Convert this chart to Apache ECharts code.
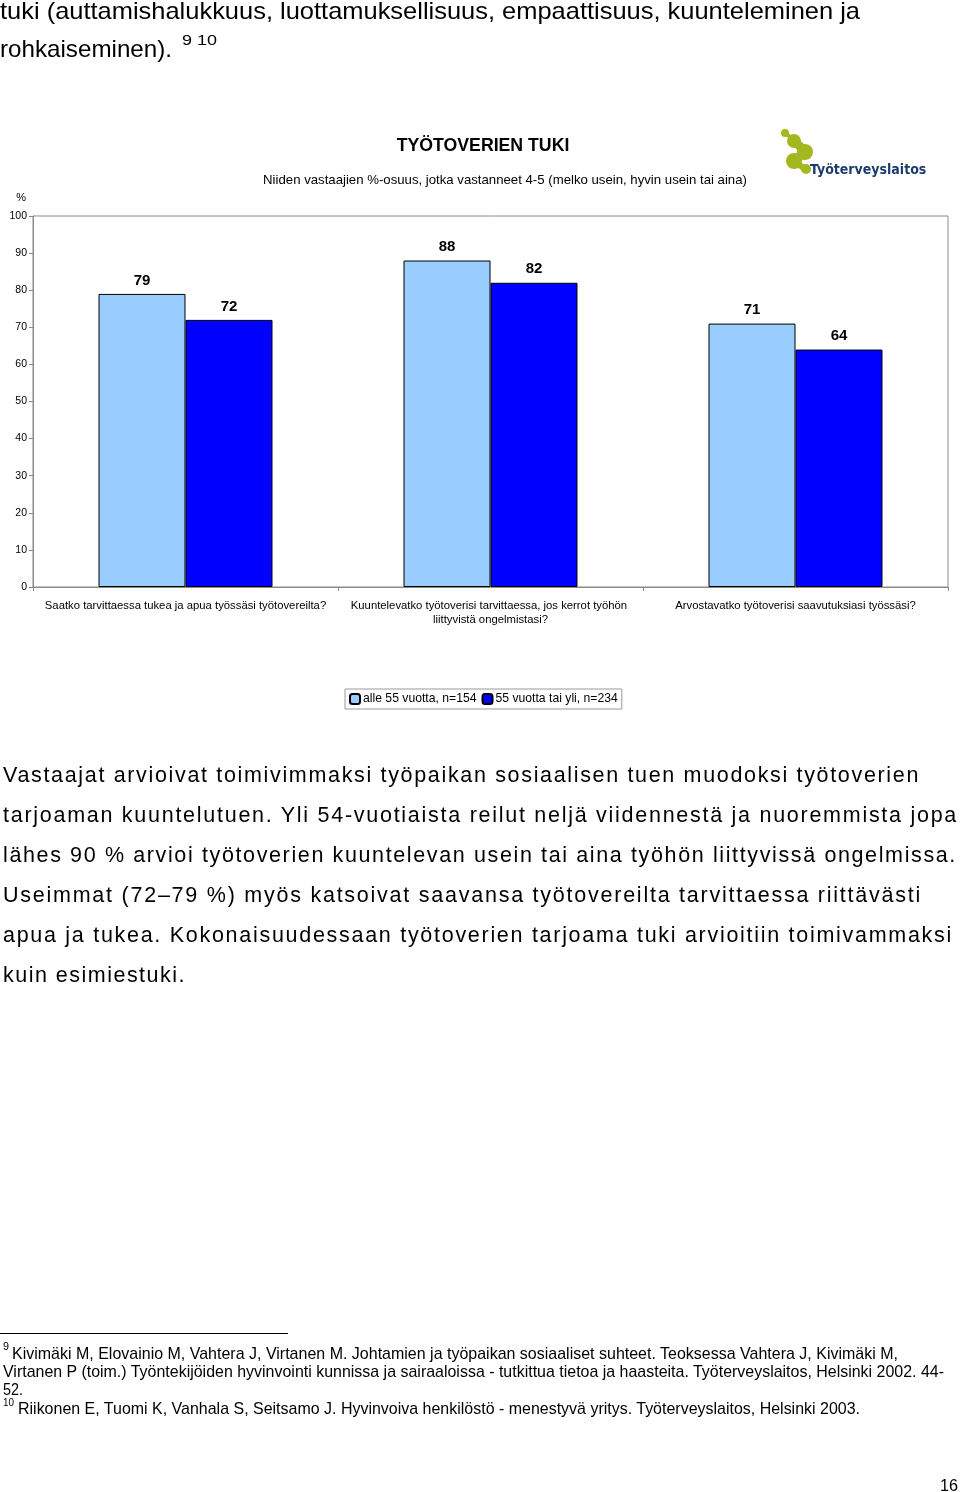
<!DOCTYPE html>
<html>
<head>
<meta charset="utf-8">
<script src="https://cdn.jsdelivr.net/npm/echarts@6/dist/echarts.min.js"></script>
<style>
  html, body { margin:0; padding:0; background:#fff; }
  body { width:960px; height:1492px; position:relative; overflow:hidden; font-family:"Liberation Sans", Arial, sans-serif; color:#000; }
  #chart { position:absolute; left:0; top:0; width:960px; height:1492px; z-index:0; }
  .t { position:absolute; white-space:nowrap; z-index:1; }
  .t span.in { display:inline-block; transform-origin:0 50%; }
  .rule { position:absolute; left:0; top:1333px; width:288px; height:1px; background:#000; z-index:1; }
</style>
</head>
<body>
<div id="chart"></div>
<script>
// ---------------- DATA ----------------
const categories = [
  "Saatko tarvittaessa tukea ja apua työssäsi työtovereilta?",
  "Kuuntelevatko työtoverisi tarvittaessa, jos kerrot työhön liittyvistä ongelmistasi?",
  "Arvostavatko työtoverisi saavutuksiasi työssäsi?"
];
const seriesNames = ["alle 55 vuotta, n=154", "55 vuotta tai yli, n=234"];
const under55 = [79, 88, 71];
const over55 = [72, 82, 64];
const yMin = 0, yMax = 100, yInterval = 10;
const chartTitle = "TYÖTOVERIEN TUKI";
const chartSubtitle = "Niiden vastaajien %-osuus, jotka vastanneet 4-5 (melko usein, hyvin usein tai aina)";

// page text lines: [text, x, yCenter, fontSize, targetWidth, mode]
const topLines = [
  ["tuki (auttamishalukkuus, luottamuksellisuus, empaattisuus, kuunteleminen ja", 0, 10, 24, 860, "scale"],
  ["rohkaiseminen).", 0, 48, 24, 172, "scale"]
];
const bodyLines = [
  ["Vastaajat arvioivat toimivimmaksi työpaikan sosiaalisen tuen muodoksi työtoverien", 3, 775, 21.5, 917, "space"],
  ["tarjoaman kuuntelutuen. Yli 54-vuotiaista reilut neljä viidennestä ja nuoremmista jopa", 3, 815, 21.5, 955, "space"],
  ["lähes 90 % arvioi työtoverien kuuntelevan usein tai aina työhön liittyvissä ongelmissa.", 3, 855, 21.5, 954, "space"],
  ["Useimmat (72–79 %) myös katsoivat saavansa työtovereilta tarvittaessa riittävästi", 3, 895, 21.5, 919, "space"],
  ["apua ja tukea. Kokonaisuudessaan työtoverien tarjoama tuki arvioitiin toimivammaksi", 3, 935, 21.5, 950, "space"],
  ["kuin esimiestuki.", 3, 975, 21.5, 183, "space"]
];
const footLines = [
  ["Kivimäki M, Elovainio M, Vahtera J, Virtanen M. Johtamien ja työpaikan sosiaaliset suhteet. Teoksessa Vahtera J, Kivimäki M,", 12, 1354, 17, 886, "scale"],
  ["Virtanen P (toim.) Työntekijöiden hyvinvointi kunnissa ja sairaaloissa - tutkittua tietoa ja haasteita. Työterveyslaitos, Helsinki 2002. 44-", 3, 1372, 17, 941, "scale"],
  ["52.", 3, 1390, 17, 20, "scale"],
  ["Riikonen E, Tuomi K, Vanhala S, Seitsamo J. Hyvinvoiva henkilöstö - menestyvä yritys. Työterveyslaitos, Helsinki 2003.", 18, 1409, 17, 842, "scale"]
];
const smallLines = [
  ["9 10", 182, 40, 14, 35, "scale"],
  ["9", 3, 1347, 10, 6, "scale"],
  ["10", 3, 1403, 10, 11, "scale"],
  ["16", 940, 1485, 16, 18, "scale"]
];

// ---------------- PAGE TEXT ----------------
function addLine(l) {
  const [text, x, yc, fs, w, mode] = l;
  const h = Math.round(fs * 1.2);
  const d = document.createElement("div");
  d.className = "t";
  d.style.left = x + "px";
  d.style.top = (yc - h / 2) + "px";
  d.style.fontSize = fs + "px";
  d.style.lineHeight = h + "px";
  d.style.height = h + "px";
  const s = document.createElement("span");
  s.className = "in";
  s.textContent = text;
  d.appendChild(s);
  document.body.appendChild(d);
  const nat = s.getBoundingClientRect().width;
  if (mode === "space") {
    const n = text.length;
    const ls = (w - nat) / n;
    s.style.letterSpacing = ls.toFixed(3) + "px";
  } else {
    s.style.transform = "scaleX(" + (w / nat).toFixed(4) + ")";
  }
}
[...topLines, ...bodyLines, ...footLines, ...smallLines].forEach(addLine);
const rule = document.createElement("div");
rule.className = "rule";
document.body.appendChild(rule);

// ---------------- CHART ----------------
const font = '"Liberation Sans", Arial, sans-serif';
const chart = echarts.init(document.getElementById("chart"), null, { renderer: "canvas" });
const green = "#a3b81f";
chart.setOption({
  animation: false,
  backgroundColor: "#fff",
  textStyle: { fontFamily: font, color: "#000" },
  title: [
    { text: chartTitle, left: 478, top: 132, textAlign: "center",
      textStyle: { fontSize: 17.7, fontWeight: "bold", color: "#000", fontFamily: font } },
    { text: chartSubtitle, left: 500, top: 169, textAlign: "center",
      textStyle: { fontSize: 13.2, fontWeight: "normal", color: "#000", fontFamily: font } }
  ],
  legend: {
    data: seriesNames,
    top: 689,
    left: 345,
    orient: "horizontal",
    itemWidth: 10,
    itemHeight: 10,
    itemGap: 5,
    padding: [4, 4, 4, 4],
    borderColor: "#999",
    borderWidth: 1,
    textStyle: { fontSize: 12.2, color: "#000", fontFamily: font, padding: [0, 0, 0, -2] },
    selectedMode: false
  },
  grid: {
    left: 33, right: 12, top: 216, bottom: 905,
    show: true, borderColor: "#8a8a8a", borderWidth: 1, backgroundColor: "#fff"
  },
  xAxis: {
    type: "category",
    data: categories,
    boundaryGap: true,
    axisLine: { lineStyle: { color: "#8a8a8a", width: 1 } },
    axisTick: { show: true, alignWithLabel: false, length: 4, lineStyle: { color: "#8a8a8a" } },
    axisLabel: {
      interval: 0, fontSize: 11.3, color: "#000", margin: 12, fontFamily: font,
      width: 320, overflow: "break", lineHeight: 14
    }
  },
  yAxis: {
    type: "value",
    min: yMin, max: yMax, interval: yInterval,
    name: "%",
    nameLocation: "end",
    nameGap: 13,
    nameTextStyle: { fontSize: 11, color: "#000", align: "right", padding: [0, 7, 0, 0], fontFamily: font },
    axisLine: { show: true, lineStyle: { color: "#8a8a8a", width: 1 } },
    axisTick: { show: true, length: 4, inside: false, lineStyle: { color: "#8a8a8a" } },
    axisLabel: { fontSize: 10.5, color: "#000", margin: 6, fontFamily: font },
    splitLine: { show: false }
  },
  series: [
    {
      name: seriesNames[0], type: "bar", data: under55,
      barWidth: 87, barGap: "0%",
      itemStyle: { color: "#99ccff", borderColor: "#000", borderWidth: 1 },
      label: { show: true, position: "top", distance: 6, fontSize: 15, fontWeight: "bold", color: "#000", fontFamily: font }
    },
    {
      name: seriesNames[1], type: "bar", data: over55,
      barWidth: 87, barGap: "0%",
      itemStyle: { color: "#0000ff", borderColor: "#000", borderWidth: 1 },
      label: { show: true, position: "top", distance: 6, fontSize: 15, fontWeight: "bold", color: "#000", fontFamily: font }
    }
  ],
  graphic: [
    { type: "group", left: 781, top: 129, children: [
      { type: "circle", shape: { cx: 5, cy: 5, r: 4 }, style: { fill: green } },
      { type: "line", shape: { x1: 5, y1: 5, x2: 14, y2: 12 }, style: { stroke: green, lineWidth: 4, lineCap: "round" } },
      { type: "circle", shape: { cx: 14, cy: 13, r: 7 }, style: { fill: green } },
      { type: "line", shape: { x1: 14, y1: 13, x2: 25, y2: 23 }, style: { stroke: green, lineWidth: 9, lineCap: "round" } },
      { type: "circle", shape: { cx: 25, cy: 24, r: 8 }, style: { fill: green } },
      { type: "line", shape: { x1: 25, y1: 24, x2: 14, y2: 33 }, style: { stroke: green, lineWidth: 9, lineCap: "round" } },
      { type: "circle", shape: { cx: 14, cy: 33, r: 8 }, style: { fill: green } },
      { type: "line", shape: { x1: 14, y1: 33, x2: 25, y2: 41 }, style: { stroke: green, lineWidth: 6, lineCap: "round" } },
      { type: "circle", shape: { cx: 26, cy: 41, r: 5 }, style: { fill: green } }
    ] },
    { type: "text", left: 810, top: 163, style: { text: "Työterveyslaitos", fill: "#1d3c6e", fontSize: 14, fontWeight: "bold", fontFamily: '"DejaVu Sans Condensed", "DejaVu Sans", sans-serif' } }
  ]
});
</script>
</body>
</html>
